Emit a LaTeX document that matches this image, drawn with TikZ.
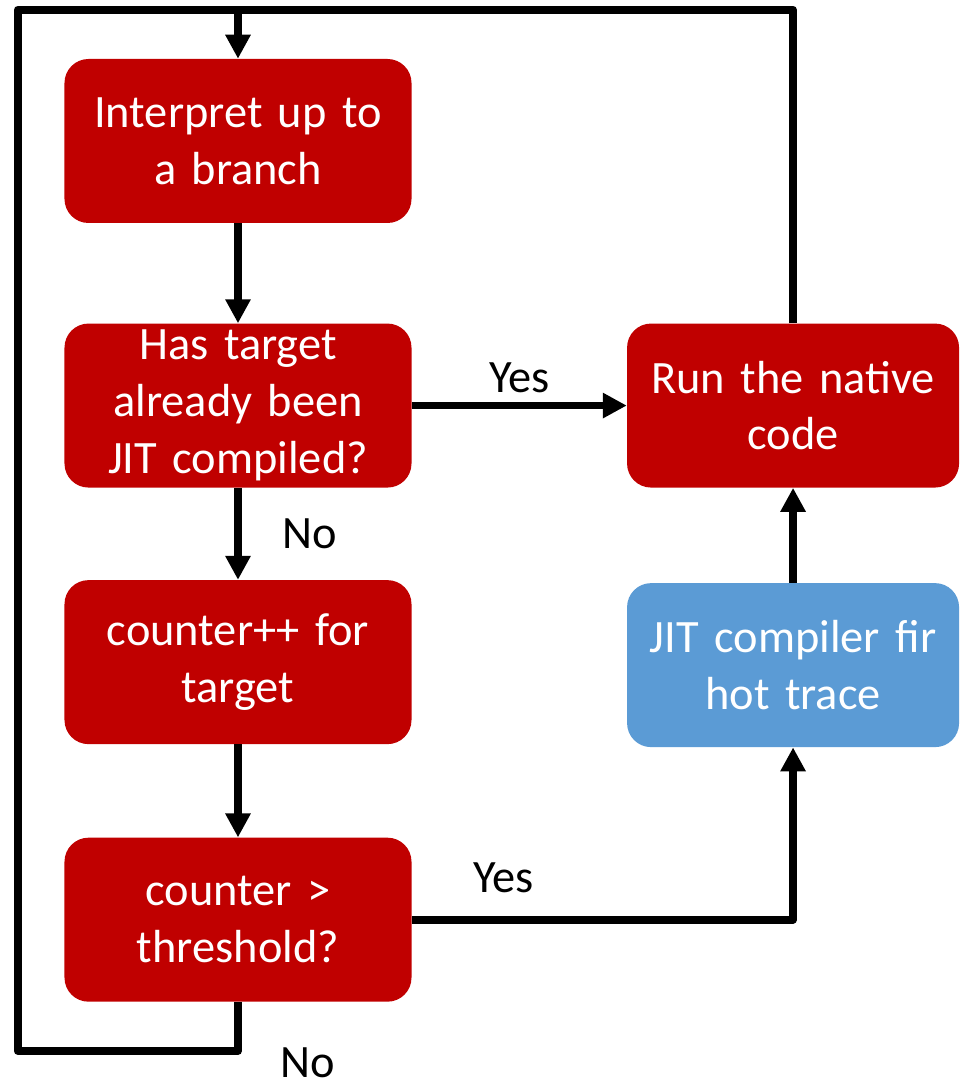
\documentclass[tikz,border=0pt]{standalone}
\usepackage{fontspec}
\setmainfont{Carlito}
\usepackage{xcolor}
\usetikzlibrary{positioning, arrows.meta}

\definecolor{boxred}{HTML}{C00000}
\definecolor{boxblue}{HTML}{5B9BD5}

\begin{document}
\begin{tikzpicture}[
    node distance=2.3cm,
    font=\fontsize{33}{40.5}\selectfont,
    box/.style={rectangle, rounded corners=0.6cm, fill=boxred, text=white,
        minimum width=8.675cm, minimum height=4.1cm, text width=8.2cm,
        align=center, inner sep=0pt},
    flow/.style={draw, line width=5.5pt, line join=round,
        -{Triangle[length=0.6cm, width=0.6cm]}}
]
\useasboundingbox (-5.95,3.525) rectangle (18.075,-23.475);

\node[box] (interp) {Interpret up to\\a branch};
\node[box] (compiled) [below=2.5cm of interp] {Has target\\already been\\JIT compiled?};
\node[box] (count) [below=2.3cm of compiled] {counter++ for\\target};
\node[box] (thresh) [below=2.325cm of count] {counter >\\threshold?};
\node[box, minimum width=8.3cm] (native) [right=5.375cm of compiled] {Run the native\\code};
\node[box, minimum width=8.3cm, fill=boxblue] (jit) [below=2.375cm of native] {JIT compiler fir\\hot trace};

\coordinate[above=1.225cm of interp.north] (top);
\coordinate[below=1.225cm of thresh.south] (bot);
\coordinate[left=1.1625cm of interp.west] (lft);

\draw[flow] (interp) -- (compiled);
\draw[flow] (compiled) -- node[above=0.1cm] (yes1) {Yes} (native);
\draw[flow] (compiled) -- node[right=0.9cm] (no1) {No} (count);
\draw[flow] (count) -- (thresh);
\draw[flow] (thresh.east) -| node[pos=0.12, above=0.45cm] (yes2) {Yes} (jit.south);
\draw[flow] (jit) -- (native);
\draw[flow] (native.north) |- (top) -- (interp.north);
\draw[flow, -] (thresh.south) -- (bot) -| (lft) |- (top);
\node[inner sep=0pt, anchor=north west] (no2) at ([xshift=1.05cm, yshift=0.08cm]bot) {No};
\end{tikzpicture}
\end{document}
